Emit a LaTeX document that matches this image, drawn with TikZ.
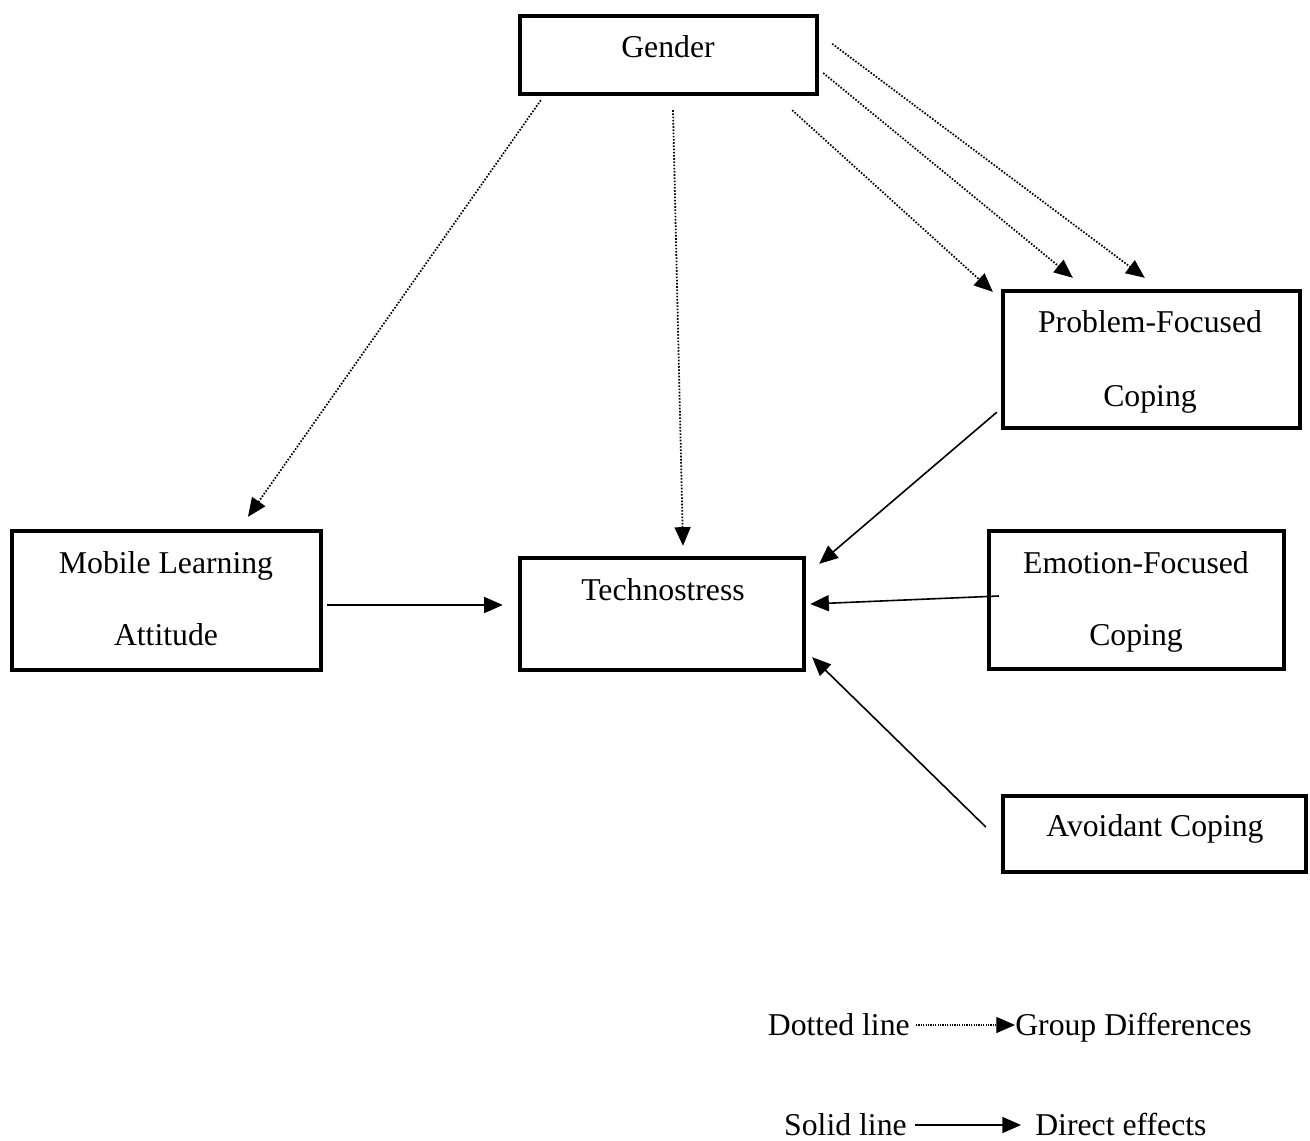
\documentclass[tikz,border=0pt]{standalone}
\usepackage{fontspec}
\setmainfont{Liberation Serif}
\usetikzlibrary{arrows.meta,calc}
\begin{document}
\begin{tikzpicture}[x=0.75pt,y=-0.75pt,
  box/.style={draw,line width=3.3pt,rectangle,inner sep=0pt},
  lbl/.style={inner sep=0pt,anchor=base,font=\fontsize{23.8}{28}\selectfont},
  dotarr/.style={line width=1.3pt,dash pattern=on 1.2pt off 1.2pt,-{Triangle[length=14pt,width=12pt]}},
  solarr/.style={line width=1.2pt,-{Triangle[length=14pt,width=12pt]}}]
\useasboundingbox (0,0) rectangle (1310,1140);
% boxes
\node[box,minimum width=222.75pt,minimum height=58.5pt] (gen) at (668.5,55) {};
\node[box,minimum width=222.75pt,minimum height=102.75pt] (pfc) at (1151.5,359.5) {};
\node[box,minimum width=231.75pt,minimum height=104.25pt] (mla) at (166.5,600.5) {};
\node[box,minimum width=213pt,minimum height=84pt] (tech) at (662,614) {};
\node[box,minimum width=221.25pt,minimum height=103.5pt] (efc) at (1136.5,600) {};
\node[box,minimum width=227.25pt,minimum height=57pt] (avo) at (1154.5,834) {};
% texts
\node[lbl] (tgen) at (668,57) {Gender};
\node[lbl] (tpfc1) at (1150,332) {Problem-Focused};
\node[lbl] (tpfc2) at (1150,406) {Coping};
\node[lbl] (tmla1) at (166,573) {Mobile Learning};
\node[lbl] (tmla2) at (166,645) {Attitude};
\node[lbl] (ttech) at (663,600) {Technostress};
\node[lbl] (tefc1) at (1136,573) {Emotion-Focused};
\node[lbl] (tefc2) at (1136,645) {Coping};
\node[lbl] (tavo) at (1155,836) {Avoidant Coping};
% dotted arrows
\draw[dotarr] ($(gen.south west)+(23,4)$) -- ($(mla.north)+(81.5,-12)$);
\draw[dotarr] ($(gen.south)+(4.5,14)$) -- ($(tech.north)+(21,-10)$);
\draw[dotarr] ($(gen.south east)+(-27,14)$) -- ($(pfc.north west)+(-8,3)$);
\draw[dotarr] ($(gen.east)+(4,18)$) -- ($(pfc.north west)+(72,-11)$);
\draw[dotarr] ($(gen.north east)+(13,30)$) -- ($(pfc.north west)+(144,-11)$);
% solid arrows
\draw[solarr] ($(pfc.south west)+(-4,-18)$) -- ($(tech.north east)+(13,8)$);
\draw[solarr] ($(efc.west)+(12,-4)$) -- ($(tech.east)+(4,-10)$);
\draw[solarr] ($(avo.west)+(-15,-7)$) -- ($(tech.south east)+(6,-15)$);
\draw[solarr] ($(mla.east)+(4,4.5)$) -- ($(tech.west)+(-15,-9)$);
% legend
\node[lbl,anchor=base east] (ldot) at (910,1035) {Dotted line};
\node[lbl,anchor=base west] (lgrp) at (1015,1035) {Group Differences};
\node[lbl,anchor=base east] (lsol) at (907,1135) {Solid line};
\node[lbl,anchor=base west] (ldir) at (1035,1135) {Direct effects};
\draw[dotarr,line width=0.9pt,dash pattern=on 0.9pt off 0.9pt] ($(ldot.base east)+(6,-10)$) -- ($(lgrp.base west)+(0,-10)$);
\draw[solarr] ($(lsol.base east)+(8,-10)$) -- ($(ldir.base west)+(-14,-10)$);
\end{tikzpicture}
\end{document}
